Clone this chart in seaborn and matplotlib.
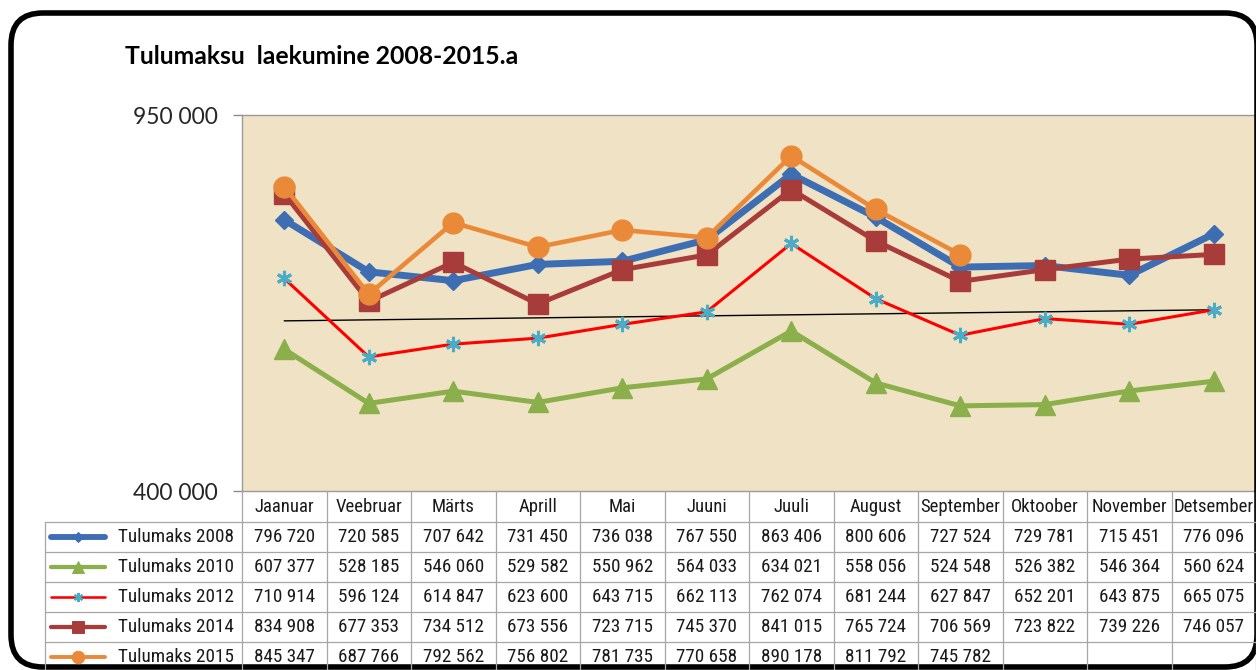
import numpy as np
import pandas as pd
import matplotlib
matplotlib.use("Agg")
import matplotlib.pyplot as plt
from matplotlib.patches import FancyBboxPatch
from matplotlib import font_manager
import seaborn as sns

# ---------------- data ----------------
months = ["Jaanuar", "Veebruar", "Märts", "Aprill", "Mai", "Juuni", "Juuli",
          "August", "September", "Oktoober", "November", "Detsember"]
series_names = ["Tulumaks 2008", "Tulumaks 2010", "Tulumaks 2012",
                "Tulumaks 2014", "Tulumaks 2015"]
tm2008 = [796720, 720585, 707642, 731450, 736038, 767550, 863406, 800606, 727524, 729781, 715451, 776096]
tm2010 = [607377, 528185, 546060, 529582, 550962, 564033, 634021, 558056, 524548, 526382, 546364, 560624]
tm2012 = [710914, 596124, 614847, 623600, 643715, 662113, 762074, 681244, 627847, 652201, 643875, 665075]
tm2014 = [834908, 677353, 734512, 673556, 723715, 745370, 841015, 765724, 706569, 723822, 739226, 746057]
tm2015 = [845347, 687766, 792562, 756802, 781735, 770658, 890178, 811792, 745782, None, None, None]
y_ticks = [400000, 950000]
y_tick_labels = ["400 000", "950 000"]
title = "Tulumaksu  laekumine 2008-2015.a"

values = [tm2008, tm2010, tm2012, tm2014, tm2015]

# ---------------- styles ----------------
styles = [
    dict(color="#3D6EB4", lw=5.0, marker="D", ms=9, mfc="#3D6EB4", mec="#3D6EB4", mew=1),
    dict(color="#8BAF4A", lw=3.6, marker="^", ms=14, mfc="#8BAF4A", mec="#8BAF4A", mew=1),
    dict(color="#FF0000", lw=2.2, marker=(6, 2, 0), ms=11, mfc="#4BACC6", mec="#4BACC6", mew=2.2),
    dict(color="#A83C3B", lw=3.6, marker="s", ms=14, mfc="#A83C3B", mec="#A83C3B", mew=1),
    dict(color="#EA8A38", lw=3.3, marker="o", ms=15, mfc="#EA8A38", mec="#EA8A38", mew=1),
]

sns.set_theme(style="white")
plt.rcParams["font.family"] = ["Lato", "DejaVu Sans"]

# pick a narrow font for the table if one is installed
table_font, table_fs, head_fs = "Liberation Sans", 11.0, 11.0
for fam in ["Liberation Sans Narrow", "Roboto Condensed", "Open Sans Condensed",
            "Arial Narrow", "Noto Sans Condensed"]:
    try:
        font_manager.findfont(font_manager.FontProperties(family=fam),
                              fallback_to_default=False)
        table_font, table_fs, head_fs = fam, 13.8, 13.5
        break
    except Exception:
        pass

W, H = 1256, 670
fig = plt.figure(figsize=(W / 100, H / 100), dpi=100)
fig.patch.set_facecolor("white")

# plot area in pixels (top-down)
PL, PR, PT, PB = 242, 1256, 115, 491
ax = fig.add_axes([PL / W, 1 - PB / H, (PR - PL) / W, (PB - PT) / H])
ax.set_facecolor("#F0E2C4")

xpos = np.arange(len(months))
rows = []
for name, vals in zip(series_names, values):
    for i, v in enumerate(vals):
        if v is not None:
            rows.append(dict(series=name, x=i, value=v))
df = pd.DataFrame(rows)

for k, (name, st) in enumerate(zip(series_names, styles)):
    d = df[df.series == name]
    sns.lineplot(data=d, x="x", y="value", ax=ax, color=st["color"], linewidth=st["lw"],
                 marker=st["marker"], markersize=st["ms"], markerfacecolor=st["mfc"],
                 markeredgecolor=st["mec"], markeredgewidth=st["mew"],
                 zorder=3 + k, legend=False, errorbar=None)

# linear trendline of 2012 series
coef = np.polyfit(xpos, np.array(tm2012, dtype=float), 1)
ax.plot(xpos, np.polyval(coef, xpos), color="black", lw=1.0, zorder=2.5)

ax.set_xlim(-0.5, len(months) - 0.5)
ax.set_ylim(y_ticks[0], y_ticks[-1])
ax.set_xticks([])
ax.set_yticks(y_ticks)
ax.set_yticklabels(y_tick_labels, fontsize=16.5, color="#262626")
ax.tick_params(axis="y", length=6.5, width=1, color="#8C8C8C", pad=11, left=True)
ax.set_xlabel("")
ax.set_ylabel("")
for s in ["left", "top", "right", "bottom"]:
    ax.spines[s].set_color("#9A9A9A")
    ax.spines[s].set_linewidth(1.0)
ax.grid(False)

# ---------------- overlay axes (table, title, frame) in pixels ----------------
tax = fig.add_axes([0, 0, 1, 1], zorder=10)
tax.set_xlim(0, W)
tax.set_ylim(H, 0)
tax.axis("off")
tax.patch.set_alpha(0)

tax.text(125, 57, title, fontsize=17.8, fontweight="bold", color="black",
         ha="left", va="center")

cw = (PR - PL) / len(months)
grid_c = "#A6A6A6"
header_top, header_bot = PB, 522
row_h = 30
n_rows = len(series_names)
table_left = 45
table_bottom = header_bot + n_rows * row_h

for i in range(len(months) + 1):
    xl = PL + i * cw
    tax.plot([xl, xl], [header_top, table_bottom], color=grid_c, lw=0.9)
tax.plot([table_left, table_left], [header_bot, table_bottom], color=grid_c, lw=0.9)
for r in range(n_rows + 1):
    yl = header_bot + r * row_h
    tax.plot([table_left, PR], [yl, yl], color=grid_c, lw=0.9)

for i, m in enumerate(months):
    tax.text(PL + (i + 0.5) * cw, (header_top + header_bot) / 2 + 1, m, family=table_font,
             fontsize=head_fs, ha="center", va="center", color="#1A1A1A")

for r, (name, vals, st) in enumerate(zip(series_names, values, styles)):
    yc = header_bot + (r + 0.5) * row_h
    tax.plot([51, 105], [yc, yc], color=st["color"], lw=st["lw"] * 0.85, solid_capstyle="round")
    tax.plot([78], [yc], marker=st["marker"], ms=st["ms"] * 0.6, mfc=st["mfc"],
             mec=st["mec"], mew=st["mew"] * 0.7, color=st["color"])
    tax.text(234, yc, name, family=table_font, fontsize=table_fs, ha="right", va="center",
             color="#1A1A1A")
    for i, v in enumerate(vals):
        if v is None:
            continue
        txt = f"{v:,}".replace(",", " ")
        tax.text(PL + (i + 0.5) * cw, yc, txt, family=table_font, fontsize=table_fs,
                 ha="center", va="center", color="#1A1A1A")

# outer rounded frame
frame = FancyBboxPatch((11, 13), 1246, 654, boxstyle="round,pad=0,rounding_size=32",
                       fill=False, ec="black", lw=4.0, clip_on=False)
tax.add_patch(frame)

fig.savefig("out.png", dpi=100)
